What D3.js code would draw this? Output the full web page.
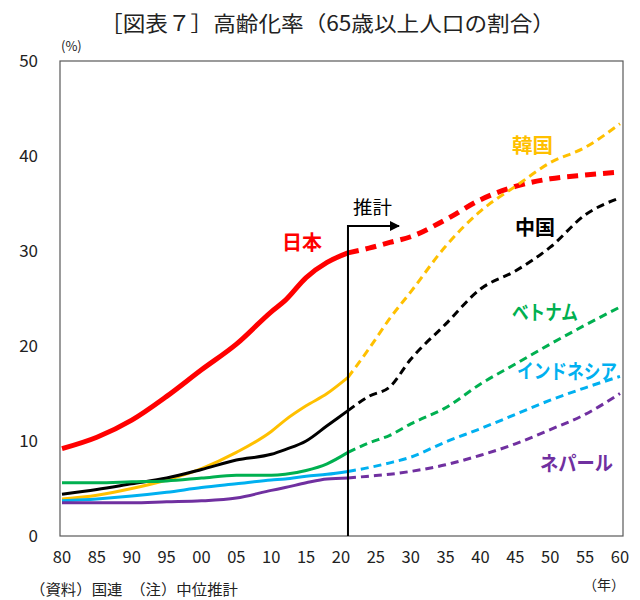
<!DOCTYPE html>
<html>
<head>
<meta charset="utf-8">
<script src="https://cdn.jsdelivr.net/npm/d3@7"></script>
<style>
  body { margin: 0; background: #fff; }
  svg text { font-family: "Noto Sans CJK JP", "Noto Sans", sans-serif; }
</style>
</head>
<body>
<script>
// years and shares of population aged 65+ (%)
const years = [1980, 1985, 1990, 1995, 2000, 2005, 2010, 2012, 2015, 2018, 2021,
               2024, 2027, 2030, 2035, 2040, 2045, 2050, 2055, 2060];
const splitYear = 2021;

const japan     = [9.2, 10.4, 12.2, 14.7, 17.5, 20.2, 23.6, 24.8, 27.2, 28.8, 29.8,
                   30.3, 30.9, 31.5, 33.3, 35.4, 36.8, 37.6, 38.0, 38.3];
const korea     = [3.9, 4.3, 5.0, 5.9, 7.1, 8.8, 11.0, 12.2, 13.7, 15.0, 16.7,
                   19.7, 22.9, 25.7, 30.5, 34.2, 36.8, 39.3, 40.9, 43.4];
const china     = [4.4, 4.9, 5.5, 6.1, 7.0, 8.0, 8.6, 9.1, 10.0, 11.6, 13.2,
                   14.7, 15.7, 18.6, 22.3, 26.0, 27.9, 30.4, 33.8, 35.6];
const vietnam   = [5.6, 5.6, 5.7, 5.8, 6.1, 6.4, 6.4, 6.5, 6.9, 7.6, 8.8,
                   9.8, 10.6, 11.8, 13.5, 16.0, 18.1, 20.2, 22.2, 24.1];
const indonesia = [3.7, 3.9, 4.2, 4.6, 5.1, 5.5, 5.9, 6.0, 6.3, 6.5, 6.8,
                   7.2, 7.7, 8.3, 9.9, 11.3, 12.8, 14.3, 15.6, 16.8];
const nepal     = [3.5, 3.5, 3.5, 3.6, 3.7, 4.0, 4.8, 5.1, 5.6, 6.0, 6.1,
                   6.3, 6.5, 6.8, 7.5, 8.5, 9.7, 11.2, 12.8, 15.0];

const names  = ["日本", "韓国", "中国", "ベトナム", "インドネシア", "ネパール"];
const colors = ["#FF0000", "#FFC000", "#000000", "#00B050", "#00B0F0", "#7030A0"];
const seriesValues = [japan, korea, china, vietnam, indonesia, nepal];

const xTicks = d3.range(1980, 2061, 5);
const yTicks = [0, 10, 20, 30, 40, 50];

const width = 640, height = 600;
const margin = { left: 60, right: 17, top: 61, bottom: 64 };

const svg = d3.select("body").append("svg")
    .attr("width", width)
    .attr("height", height);

// title
svg.append("text")
    .attr("x", 100).attr("y", 31)
    .attr("font-size", 21)
    .attr("fill", "#222")
    .attr("textLength", 455)
    .attr("lengthAdjust", "spacingAndGlyphs")
    .text("［図表７］高齢化率（65歳以上人口の割合）");

const x = d3.scaleLinear().domain([1980, 2060]).range([62, 620]);
const y = d3.scaleLinear().domain([0, 50]).range([height - margin.bottom, margin.top]);

// plot frame
svg.append("rect")
    .attr("x", margin.left).attr("y", margin.top)
    .attr("width", width - margin.left - margin.right)
    .attr("height", height - margin.top - margin.bottom)
    .attr("fill", "none")
    .attr("stroke", "#595959")
    .attr("stroke-width", 1.2);

// y axis labels
svg.append("g").selectAll("text")
    .data(yTicks).join("text")
    .attr("x", 38).attr("y", d => y(d) + 6)
    .attr("text-anchor", "end")
    .attr("font-size", 17)
    .attr("fill", "#222")
    .text(d => d);

svg.append("text")
    .attr("x", 61).attr("y", 51)
    .attr("font-size", 13)
    .attr("fill", "#222")
    .text("(%)");

// x axis labels
svg.append("g").selectAll("text")
    .data(xTicks).join("text")
    .attr("x", d => x(d)).attr("y", 563)
    .attr("text-anchor", "middle")
    .attr("font-size", 16.5)
    .attr("fill", "#222")
    .text(d => String(d % 100).padStart(2, "0"));

svg.append("text")
    .attr("x", 625).attr("y", 590)
    .attr("text-anchor", "end")
    .attr("font-size", 14)
    .attr("fill", "#222")
    .text("（年）");

svg.append("text")
    .attr("x", 30).attr("y", 595)
    .attr("font-size", 15)
    .attr("fill", "#222")
    .attr("textLength", 208)
    .attr("lengthAdjust", "spacingAndGlyphs")
    .text("（資料）国連　（注）中位推計");

// lines
const line = d3.line()
    .x(d => x(d[0]))
    .y(d => y(d[1]))
    .curve(d3.curveMonotoneX);

seriesValues.forEach((vals, i) => {
    const pts = years.map((yr, j) => [yr, vals[j]]);
    const past = pts.filter(p => p[0] <= splitYear);
    const future = pts.filter(p => p[0] >= splitYear);
    const w = i === 0 ? 5 : 3;
    svg.append("path")
        .attr("d", line(past))
        .attr("fill", "none")
        .attr("stroke", colors[i])
        .attr("stroke-width", w);
    svg.append("path")
        .attr("d", line(future))
        .attr("fill", "none")
        .attr("stroke", colors[i])
        .attr("stroke-width", w)
        .attr("stroke-dasharray", i === 0 ? "11,7" : "8,5");
});

// estimate marker
const markerX = x(splitYear);
svg.append("defs").append("marker")
    .attr("id", "arrow")
    .attr("viewBox", "0 0 10 10")
    .attr("refX", 9).attr("refY", 5)
    .attr("markerWidth", 5).attr("markerHeight", 5)
    .attr("orient", "auto")
    .append("path")
    .attr("d", "M0,0L10,5L0,10z")
    .attr("fill", "#000");

svg.append("path")
    .attr("d", `M${markerX},${y(0)}V226H399`)
    .attr("fill", "none")
    .attr("stroke", "#000")
    .attr("stroke-width", 2)
    .attr("marker-end", "url(#arrow)");

svg.append("text")
    .attr("x", 353).attr("y", 214)
    .attr("font-size", 18)
    .attr("fill", "#000")
    .attr("textLength", 39)
    .attr("lengthAdjust", "spacingAndGlyphs")
    .text("推計");

// series labels: [left x, baseline y, width]
const labelPos = [[282, 250, 40], [512, 153, 41], [515, 235, 40],
                  [512, 320, 66], [517, 379, 100], [540, 471, 73]];
names.forEach((n, i) => {
    svg.append("text")
        .attr("x", labelPos[i][0]).attr("y", labelPos[i][1])
        .attr("font-size", 20)
        .attr("font-weight", "bold")
        .attr("fill", colors[i])
        .attr("textLength", labelPos[i][2])
        .attr("lengthAdjust", "spacingAndGlyphs")
        .text(n);
});
</script>
</body>
</html>
